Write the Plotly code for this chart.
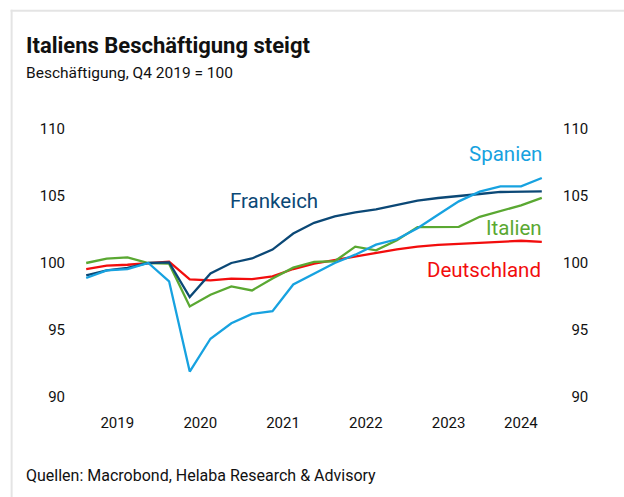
import plotly.graph_objects as go
import pandas as pd

quarters = ["2019Q1","2019Q2","2019Q3","2019Q4","2020Q1","2020Q2","2020Q3","2020Q4",
            "2021Q1","2021Q2","2021Q3","2021Q4","2022Q1","2022Q2","2022Q3","2022Q4",
            "2023Q1","2023Q2","2023Q3","2023Q4","2024Q1","2024Q2","2024Q3"]

deutschland = [99.55, 99.80, 99.87, 100.0, 100.10, 98.78, 98.70, 98.83, 98.80, 99.00, 99.55, 99.95,
               100.22, 100.52, 100.77, 101.02, 101.22, 101.35, 101.42, 101.49, 101.59, 101.66, 101.57]
frankreich = [99.08, 99.45, 99.63, 100.0, 100.04, 97.46, 99.22, 100.0, 100.34, 101.0, 102.2, 103.0,
              103.48, 103.78, 104.0, 104.35, 104.66, 104.85, 105.02, 105.15, 105.30, 105.34, 105.34]
italien = [100.0, 100.32, 100.42, 100.0, 99.95, 96.76, 97.63, 98.25, 97.95, 98.85, 99.65, 100.08,
           100.13, 101.22, 100.94, 101.70, 102.68, 102.68, 102.70, 103.45, 103.88, 104.30, 104.86]
spanien = [98.88, 99.45, 99.55, 100.0, 98.63, 91.90, 94.35, 95.50, 96.20, 96.40, 98.40, 99.20,
           100.0, 100.62, 101.37, 101.77, 102.60, 103.60, 104.60, 105.32, 105.72, 105.72, 106.34]

year_ticks = ["2019-07-02", "2020-07-02", "2021-07-02", "2022-07-02", "2023-07-02", "2024-05-16"]
year_labels = ["2019", "2020", "2021", "2022", "2023", "2024"]
y_ticks = [90, 95, 100, 105, 110]
y_labels = ["\u200790", "\u200795", "100", "105", "110"]

# quarter midpoints
def qmid(q):
    p = pd.Period(q, freq="Q")
    return p.start_time + (p.end_time - p.start_time) / 2

x = [qmid(q) for q in quarters]

C_DE = "#f20d0d"
C_FR = "#0b4876"
C_IT = "#5aa832"
C_ES = "#17a2e0"

FONT = "Roboto"
TXT = "#111111"

fig = go.Figure()
for name, vals, col in [("Deutschland", deutschland, C_DE), ("Italien", italien, C_IT),
                        ("Frankreich", frankreich, C_FR), ("Spanien", spanien, C_ES)]:
    fig.add_trace(go.Scatter(x=x, y=vals, mode="lines", name=name,
                             line=dict(color=col, width=2.3), showlegend=False))
# invisible trace for right axis
fig.add_trace(go.Scatter(x=x, y=spanien, yaxis="y2", mode="lines", line=dict(width=0),
                         hoverinfo="skip", showlegend=False, opacity=0))

W, H = 624, 497
L, R, T, B = 75.5, 71.5, 129.3, 99.7

fig.update_layout(
    width=W, height=H,
    margin=dict(l=L, r=R, t=T, b=B),
    paper_bgcolor="white", plot_bgcolor="white",
    font=dict(family=FONT, color=TXT, size=15),
    xaxis=dict(type="date", range=["2019-01-01", "2024-09-30"], showgrid=False, zeroline=False,
               showline=False, ticks="", tickvals=year_ticks, ticktext=year_labels,
               tickfont=dict(size=15, color=TXT), ticklabelstandoff=15),
    yaxis=dict(range=[90, 110], showgrid=False, zeroline=False, showline=False, ticks="",
               tickvals=y_ticks, ticktext=y_labels, tickfont=dict(size=15, color=TXT),
               ticklabelstandoff=10),
    yaxis2=dict(range=[90, 110], overlaying="y", side="right", showgrid=False, zeroline=False,
                showline=False, ticks="", tickvals=y_ticks, ticktext=y_labels,
                tickfont=dict(size=15, color=TXT), ticklabelstandoff=10),
)

pw = W - L - R
ph = H - T - B
def px(xp):
    return (xp - L) / pw
def py(yp):
    return (H - B - yp) / ph

# card border (top and left)
fig.add_shape(type="line", xref="paper", yref="paper", x0=px(10), x1=px(630), y0=py(11), y1=py(11),
              line=dict(color="#e4e4e4", width=2))
fig.add_shape(type="line", xref="paper", yref="paper", x0=px(11), x1=px(11), y0=py(10), y1=py(500),
              line=dict(color="#e4e4e4", width=2))

# title, subtitle, source
fig.add_annotation(text="<b>Italiens Beschäftigung steigt</b>", xref="paper", yref="paper",
                   x=px(23), y=py(46), xanchor="left", yanchor="middle", showarrow=False,
                   font=dict(size=22, family=FONT, color=TXT))
fig.add_annotation(text="Beschäftigung, Q4 2019 = 100", xref="paper", yref="paper",
                   x=px(23), y=py(73), xanchor="left", yanchor="middle", showarrow=False,
                   font=dict(size=15.5, family=FONT, color=TXT))
fig.add_annotation(text="Quellen: Macrobond, Helaba Research &amp; Advisory", xref="paper", yref="paper",
                   x=px(23), y=py(476), xanchor="left", yanchor="middle", showarrow=False,
                   font=dict(size=16, family=FONT, color=TXT))

# series labels
fig.add_annotation(text="Frankeich", x="2020-11-01", y=104.65, xanchor="left", yanchor="middle",
                   showarrow=False, font=dict(size=20.5, color=C_FR, family=FONT))
fig.add_annotation(text="Spanien", x="2024-08-27", y=108.15, xanchor="right", yanchor="middle",
                   showarrow=False, font=dict(size=20.5, color=C_ES, family=FONT))
fig.add_annotation(text="Italien", x="2024-08-27", y=102.6, xanchor="right", yanchor="middle",
                   showarrow=False, font=dict(size=20.5, color=C_IT, family=FONT))
fig.add_annotation(text="Deutschland", x="2024-08-20", y=99.45, xanchor="right", yanchor="middle",
                   showarrow=False, font=dict(size=20.5, color=C_DE, family=FONT))

fig.write_html("out.html")
